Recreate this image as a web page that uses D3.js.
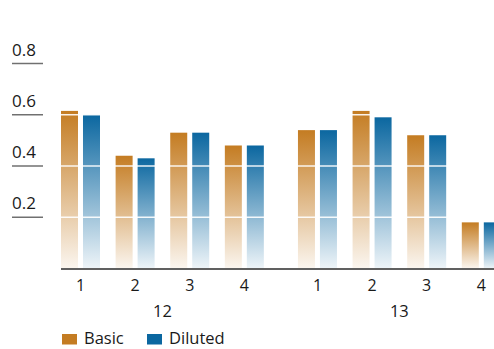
<!DOCTYPE html>
<html>
<head>
<meta charset="utf-8">
<script src="https://cdn.jsdelivr.net/npm/d3@7"></script>
<style>
  html, body { margin: 0; padding: 0; background: #fff; }
  svg { display: block; font-family: "Open Sans", "Noto Sans", sans-serif; }
</style>
</head>
<body>
<svg id="chart" width="494" height="349"></svg>
<script>
const years = ["12", "13"];
const quarters = ["1", "2", "3", "4"];
const seriesNames = ["Basic", "Diluted"];
const basicValues = [0.615, 0.44, 0.53, 0.48, 0.54, 0.615, 0.52, 0.18];
const dilutedValues = [0.60, 0.43, 0.53, 0.48, 0.54, 0.59, 0.52, 0.18];
const yTicks = [0.2, 0.4, 0.6, 0.8];
const colors = { Basic: "#C47C22", Diluted: "#0B67A0" };

const svg = d3.select("#chart");
const W = 494;

const x0 = d3.scaleBand().domain(years).range([61, 500.8]).paddingInner(0.144).paddingOuter(0);
const x1 = d3.scaleBand().domain(quarters).range([0, x0.bandwidth()]).paddingInner(0.286).paddingOuter(0);
const x2 = d3.scaleBand().domain(seriesNames).range([0, x1.bandwidth()]).paddingInner(0.227).paddingOuter(0);
const y = d3.scaleLinear().domain([0, 0.8]).range([268.5, 63.5]);

const data = [];
years.forEach((yr, yi) => {
  quarters.forEach((q, qi) => {
    const idx = yi * quarters.length + qi;
    data.push({ year: yr, q: q, series: "Basic", value: basicValues[idx] });
    data.push({ year: yr, q: q, series: "Diluted", value: dilutedValues[idx] });
  });
});

// gradients
const defs = svg.append("defs");
seriesNames.forEach(s => {
  const g = defs.append("linearGradient").attr("id", "grad-" + s)
    .attr("x1", 0).attr("y1", 0).attr("x2", 0).attr("y2", 1);
  g.append("stop").attr("offset", "0%").attr("stop-color", colors[s]).attr("stop-opacity", 1);
  g.append("stop").attr("offset", "100%").attr("stop-color", colors[s]).attr("stop-opacity", 0.07);
});

// bars
svg.append("g").selectAll("rect").data(data).join("rect")
  .attr("x", d => x0(d.year) + x1(d.q) + x2(d.series))
  .attr("y", d => y(d.value))
  .attr("width", x2.bandwidth())
  .attr("height", d => y(0) - y(d.value))
  .attr("fill", d => "url(#grad-" + d.series + ")");

// white gridlines over bars
svg.append("g").selectAll("line").data(yTicks.filter(t => t < 0.8)).join("line")
  .attr("x1", 61).attr("x2", W)
  .attr("y1", d => y(d)).attr("y2", d => y(d))
  .attr("stroke", "#fff").attr("stroke-width", 1.5).attr("stroke-opacity", 0.9);

// y tick marks and labels
const yt = svg.append("g");
yt.selectAll("line").data(yTicks).join("line")
  .attr("x1", 12).attr("x2", 43)
  .attr("y1", d => y(d)).attr("y2", d => y(d))
  .attr("stroke", "#707070").attr("stroke-width", 1.5);
yt.selectAll("text").data(yTicks).join("text")
  .attr("x", 12).attr("y", d => y(d) - 8)
  .attr("font-size", 17).attr("fill", "#1a1a1a")
  .text(d => d3.format(".1f")(d));

// baseline
svg.append("line").attr("x1", 61).attr("x2", W)
  .attr("y1", y(0) + 0.5).attr("y2", y(0) + 0.5)
  .attr("stroke", "#606060").attr("stroke-width", 2);

// quarter labels
const ql = [];
years.forEach(yr => quarters.forEach(q => ql.push({ year: yr, q: q })));
svg.append("g").selectAll("text").data(ql).join("text")
  .attr("x", d => x0(d.year) + x1(d.q) + x1.bandwidth() / 2)
  .attr("y", 290.5)
  .attr("text-anchor", "middle").attr("font-size", 16).attr("fill", "#1a1a1a")
  .text(d => d.q);

// year labels
svg.append("g").selectAll("text").data(years).join("text")
  .attr("x", d => x0(d) + x0.bandwidth() / 2)
  .attr("y", 316.5)
  .attr("text-anchor", "middle").attr("font-size", 16.5).attr("fill", "#1a1a1a")
  .text(d => d);

// legend
const legendX = { Basic: 62, Diluted: 147 };
const lg = svg.append("g").selectAll("g").data(seriesNames).join("g")
  .attr("transform", d => `translate(${legendX[d]},334)`);
lg.append("rect").attr("width", 15).attr("height", 10.5).attr("fill", d => colors[d]);
lg.append("text").attr("x", 22).attr("y", 10).attr("font-size", 16.5).attr("fill", "#1a1a1a").text(d => d);
</script>
</body>
</html>
